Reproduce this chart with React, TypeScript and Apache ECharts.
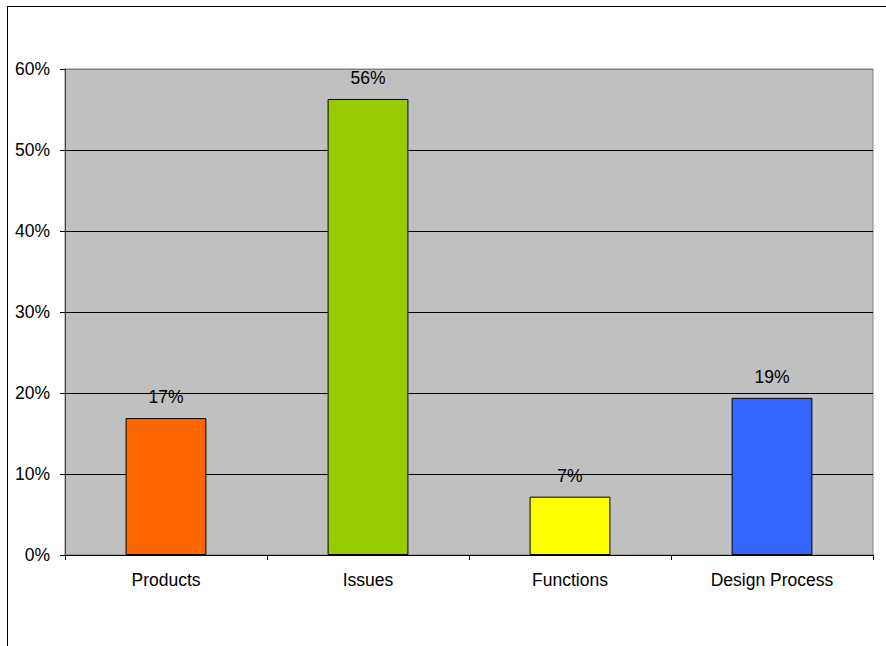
import React, { useEffect, useRef } from "react";
import * as echarts from "echarts";

const categories = ["Products", "Issues", "Functions", "Design Process"];
const values = [16.9, 56.3, 7.2, 19.4];
const barColors = ["#FF6600", "#99CC00", "#FFFF00", "#3366FF"];
const yTicks = [0, 10, 20, 30, 40, 50, 60];

export default function App() {
  const ref = useRef<HTMLDivElement>(null);
  useEffect(() => {
    if (!ref.current) return;
    const chart = echarts.init(ref.current, undefined, { renderer: "svg" });
    const font = "Liberation Sans, Arial, sans-serif";
    const fs = 17.5;
    chart.setOption({
      animation: false,
      backgroundColor: "#FFFFFF",
      grid: {
        left: 65,
        top: 69,
        right: 13,
        bottom: 91,
        show: true,
        backgroundColor: "#C0C0C0",
        borderColor: "#808080",
        borderWidth: 1,
      },
      graphic: [
        { type: "line", shape: { x1: 7, y1: 6.5, x2: 886, y2: 6.5 }, style: { stroke: "#000", lineWidth: 1 } },
        { type: "line", shape: { x1: 7.5, y1: 6, x2: 7.5, y2: 646 }, style: { stroke: "#000", lineWidth: 1 } },
      ],
      xAxis: {
        type: "category",
        data: categories,
        axisLine: { lineStyle: { color: "#000", width: 1 } },
        axisTick: { show: true, length: 5, lineStyle: { color: "#000" }, alignWithLabel: false },
        axisLabel: { color: "#000", fontSize: fs, fontFamily: font, margin: 16 },
      },
      yAxis: {
        type: "value",
        min: yTicks[0],
        max: yTicks[yTicks.length - 1],
        interval: 10,
        axisLine: { show: true, lineStyle: { color: "#404040", width: 1 } },
        axisTick: { show: true, length: 5, lineStyle: { color: "#000" } },
        axisLabel: { color: "#000", fontSize: fs, fontFamily: font, margin: 15, formatter: "{value}%" },
        splitLine: {
          show: true,
          lineStyle: { color: ["#000", "#000", "#000", "#000", "#000", "#000", "#808080"], width: 1 },
        },
      },
      series: [
        {
          type: "bar",
          barWidth: "40%",
          data: values.map((v, i) => ({
            value: v,
            itemStyle: { color: barColors[i], borderColor: "#000", borderWidth: 1 },
          })),
          label: {
            show: true,
            position: "top",
            distance: 12,
            color: "#000",
            fontSize: fs,
            fontFamily: font,
            formatter: (p: any) => Math.round(p.value) + "%",
          },
        },
      ],
    });
    return () => chart.dispose();
  }, []);
  return (
    <div
      ref={ref}
      style={{ position: "fixed", left: 0, top: 0, width: 886, height: 646 }}
    />
  );
}
